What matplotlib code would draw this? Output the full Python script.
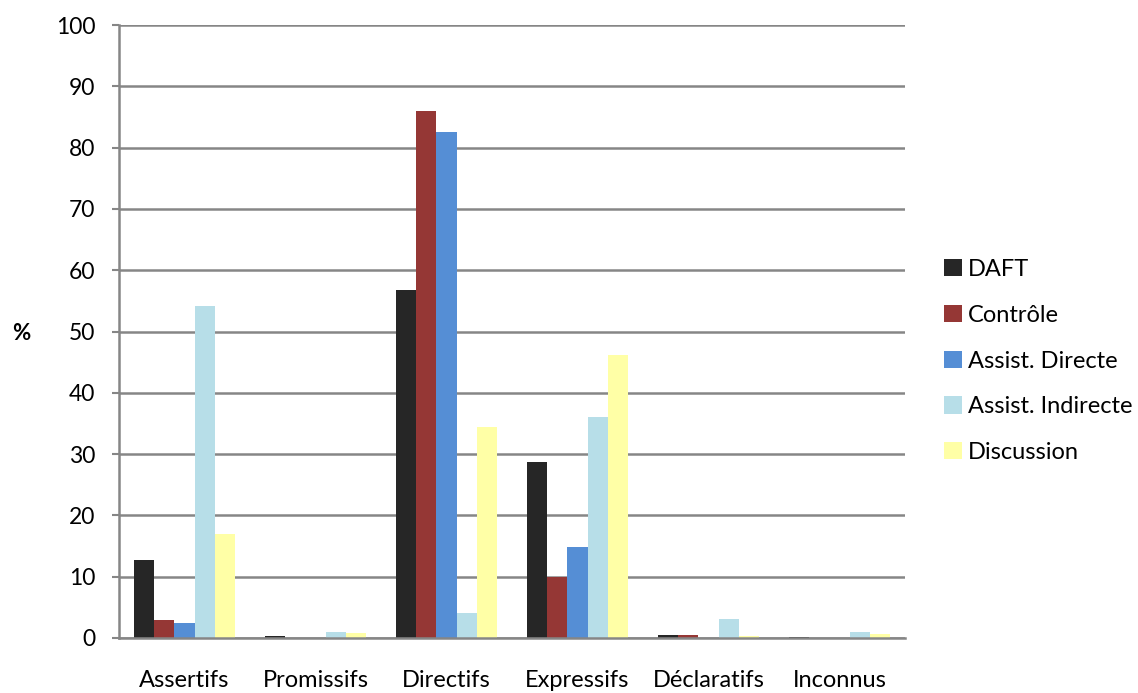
import matplotlib
matplotlib.use("Agg")
import matplotlib.pyplot as plt
import numpy as np
from matplotlib.patches import Patch

categories = ["Assertifs", "Promissifs", "Directifs", "Expressifs", "Déclaratifs", "Inconnus"]
series_names = ["DAFT", "Contrôle", "Assist. Directe", "Assist. Indirecte", "Discussion"]
daft = [12.8, 0.3, 56.8, 28.7, 0.45, 0.2]
controle = [3.0, 0.0, 86.0, 10.0, 0.5, 0.0]
assist_directe = [2.4, 0.0, 82.6, 14.8, 0.0, 0.0]
assist_indirecte = [54.2, 0.9, 4.1, 36.1, 3.1, 0.9]
discussion = [16.9, 0.8, 34.4, 46.2, 0.3, 0.6]
yticks = list(range(0, 101, 10))

colors = ["#262626", "#953735", "#558ED5", "#B7DEE8", "#FFFFA6"]
series = [daft, controle, assist_directe, assist_indirecte, discussion]

plt.rcParams['font.family'] = ['Lato', 'DejaVu Sans']
fig = plt.figure(figsize=(11.38, 6.93), dpi=100)
ax = fig.add_axes([119/1138, 1 - 638/693, (905 - 119)/1138, (638 - 25)/693])

x = np.arange(len(categories))
w = 1 / 6.5
for i, (vals, c) in enumerate(zip(series, colors)):
    ax.bar(x + (i - 2) * w, vals, width=w, color=c, zorder=3, linewidth=0)

ax.set_xlim(-0.5, len(categories) - 0.5)
ax.set_ylim(0, 100)
ax.set_yticks(yticks)
ax.set_yticklabels([str(t) for t in yticks], fontsize=16.5)
ax.set_xticks(x)
ax.set_xticklabels(categories, fontsize=17)
ax.tick_params(axis='x', length=0, pad=23)
ax.tick_params(axis='y', length=5, width=1.5, color="#868686", pad=12)
ax.grid(axis='y', color="#868686", linewidth=1.8, zorder=0)
for s in ["top", "right"]:
    ax.spines[s].set_visible(False)
for s in ["left", "bottom"]:
    ax.spines[s].set_color("#868686")
    ax.spines[s].set_linewidth(1.8)
ax.spines["bottom"].set_zorder(4)

fig.text(21/1138, 1 - 333/693, "%", fontsize=16, fontweight="bold", ha="center", va="center")

handles = [Patch(facecolor=c, edgecolor='none') for c in colors]
fig.legend(handles, series_names, loc="center left", bbox_to_anchor=(944/1138, 1 - 361/693),
           frameon=False, fontsize=17, handlelength=0.75, handleheight=0.75,
           labelspacing=1.05, handletextpad=0.25, borderpad=0, borderaxespad=0)

fig.savefig("out.png", dpi=100, facecolor="white")
